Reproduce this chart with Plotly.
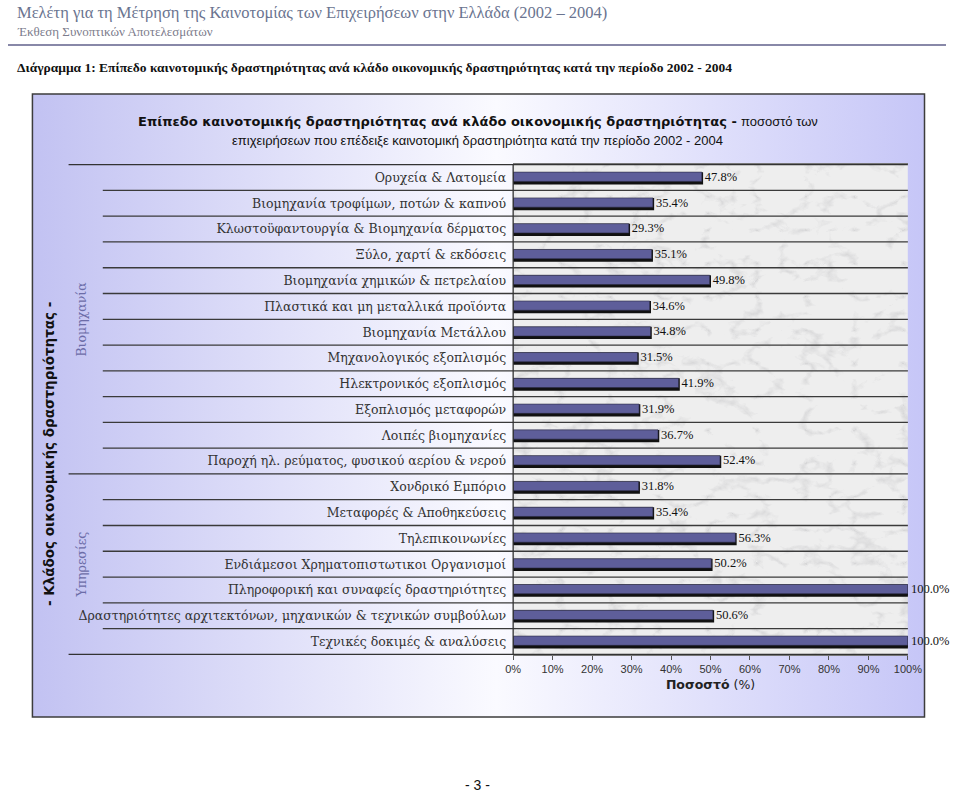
import base64
import plotly.graph_objects as go

# ---------------- data ----------------
categories = [
    "Ορυχεία & Λατομεία",
    "Βιομηχανία τροφίμων, ποτών & καπνού",
    "Κλωστοϋφαντουργία & Βιομηχανία δέρματος",
    "Ξύλο, χαρτί & εκδόσεις",
    "Βιομηχανία χημικών & πετρελαίου",
    "Πλαστικά και μη μεταλλικά προϊόντα",
    "Βιομηχανία Μετάλλου",
    "Μηχανολογικός εξοπλισμός",
    "Ηλεκτρονικός εξοπλισμός",
    "Εξοπλισμός μεταφορών",
    "Λοιπές βιομηχανίες",
    "Παροχή ηλ. ρεύματος, φυσικού αερίου & νερού",
    "Χονδρικό Εμπόριο",
    "Μεταφορές & Αποθηκεύσεις",
    "Τηλεπικοινωνίες",
    "Ενδιάμεσοι Χρηματοπιστωτικοι Οργανισμοί",
    "Πληροφορική και συναφείς δραστηριότητες",
    "Δραστηριότητες αρχιτεκτόνων, μηχανικών & τεχνικών συμβούλων",
    "Τεχνικές δοκιμές & αναλύσεις",
]
values = [47.8, 35.4, 29.3, 35.1, 49.8, 34.6, 34.8, 31.5, 41.9, 31.9, 36.7,
          52.4, 31.8, 35.4, 56.3, 50.2, 100.0, 50.6, 100.0]
group_names = ["Βιομηχανία", "Υπηρεσίες"]
group_sizes = [12, 7]
x_tick_vals = [0, 10, 20, 30, 40, 50, 60, 70, 80, 90, 100]
x_tick_text = ["0%", "10%", "20%", "30%", "40%", "50%", "60%", "70%", "80%", "90%", "100%"]

header_title = "Μελέτη για τη Μέτρηση της Καινοτομίας των Επιχειρήσεων στην Ελλάδα (2002 – 2004)"
header_sub = "Έκθεση Συνοπτικών Αποτελεσμάτων"
figure_caption = ("Διάγραμμα 1: Επίπεδο καινοτομικής δραστηριότητας ανά κλάδο οικονομικής "
                  "δραστηριότητας κατά την περίοδο 2002 - 2004")
chart_title_bold = "Επίπεδο καινοτομικής δραστηριότητας ανά κλάδο οικονομικής δραστηριότητας -"
chart_title_rest = "ποσοστό των"
chart_title_line2 = "επιχειρήσεων που επέδειξε καινοτομική δραστηριότητα κατά την περίοδο 2002 - 2004"
y_title = "- Κλάδος οικονομικής δραστηριότητας -"
x_title = "<b>Ποσοστό</b> (%)"
page_number = "- 3 -"

# ---------------- geometry helpers ----------------
W, H = 960, 798
def px(x):
    return x / W
def py(y):
    return 1 - y / H

PLOT_L, PLOT_R, PLOT_T, PLOT_B = 517, 921, 164, 655
BOX_L, BOX_R, BOX_T, BOX_B = 25, 938, 94, 717

def svg_uri(svg):
    return "data:image/svg+xml;base64," + base64.b64encode(svg.encode("utf-8")).decode()

grad_svg = (
    '<svg xmlns="http://www.w3.org/2000/svg" width="913" height="623" viewBox="0 0 913 623" '
    'preserveAspectRatio="none"><defs><linearGradient id="g" x1="0" y1="0" x2="1" y2="0">'
    '<stop offset="0" stop-color="#c2c2f2"/><stop offset="0.52" stop-color="#fafaff"/>'
    '<stop offset="1" stop-color="#c6c6f7"/></linearGradient></defs>'
    '<rect width="913" height="623" fill="url(#g)"/></svg>'
)
marble_svg = (
    '<svg xmlns="http://www.w3.org/2000/svg" width="404" height="491" viewBox="0 0 404 491" '
    'preserveAspectRatio="none"><defs><filter id="m" x="0" y="0" width="100%" height="100%">'
    '<feTurbulence type="turbulence" baseFrequency="0.02 0.03" numOctaves="4" seed="7"/>'
    '<feColorMatrix type="matrix" values="0 0 0 0 0.42  0 0 0 0 0.42  0 0 0 0 0.44  -4.5 0 0 0 0.9"/>'
    '</filter></defs><rect width="404" height="491" fill="#eeeeee"/>'
    '<rect width="404" height="491" filter="url(#m)" opacity="0.38"/></svg>'
)

fig = go.Figure()

# shadow bars (dark, slightly lower) then main bars
fig.add_trace(go.Bar(
    y=categories, x=values, orientation="h",
    width=0.38, offset=-0.16,
    marker=dict(color="#111111", line=dict(color="#111111", width=2.5)),
    hoverinfo="skip", showlegend=False,
))
fig.add_trace(go.Bar(
    y=categories, x=values, orientation="h",
    width=0.36, offset=-0.21,
    marker=dict(color="#5e5e9a", line=dict(color="#2a2a40", width=0.6)),
    text=[f"{v:.1f}%" for v in values], textposition="outside",
    constraintext="none",
    outsidetextfont=dict(family="Liberation Serif", size=12.5, color="#111111"),
    textfont=dict(family="Liberation Serif", size=12.5, color="#111111"),
    cliponaxis=False, showlegend=False,
))

shapes = []
n = len(categories)
group_bounds = [0]
for s in group_sizes:
    group_bounds.append(group_bounds[-1] + s)
for i in range(n + 1):
    is_group = i in group_bounds
    shapes.append(dict(
        type="line", xref="paper", yref="y",
        x0=px(62) if is_group else px(97), x1=px(PLOT_R),
        y0=i - 0.5, y1=i - 0.5,
        line=dict(color="#333333" if is_group else "#3a3a3a", width=1.3),
    ))
shapes.append(dict(type="line", xref="paper", yref="paper",
                   x0=px(PLOT_L), x1=px(PLOT_L), y0=py(PLOT_T), y1=py(PLOT_B),
                   line=dict(color="#333333", width=1.3)))
shapes.append(dict(type="rect", xref="paper", yref="paper",
                   x0=px(BOX_L), x1=px(BOX_R), y0=py(BOX_B), y1=py(BOX_T),
                   line=dict(color="#3c3c3c", width=1.5), fillcolor="rgba(0,0,0,0)"))
shapes.append(dict(type="line", xref="paper", yref="paper",
                   x0=0, x1=1, y0=py(45), y1=py(45),
                   line=dict(color="#8888a8", width=2)))

annotations = [
    dict(text=header_title, x=px(7), y=py(12), xanchor="left", yanchor="middle",
         font=dict(family="Liberation Serif", size=16.5, color="#6a7490")),
    dict(text=header_sub, x=px(7), y=py(31), xanchor="left", yanchor="middle",
         font=dict(family="Liberation Serif", size=13, color="#7c7c8c")),
    dict(text="<b>" + figure_caption + "</b>", x=px(7), y=py(67), xanchor="left", yanchor="middle",
         font=dict(family="Liberation Serif", size=13.5, color="#111111")),
    dict(text="<b>" + chart_title_bold + "</b> <span style=\"font-family:Liberation Sans;font-size:13px\">"
         + chart_title_rest + "</span>",
         x=px(481), y=py(122), xanchor="center", yanchor="middle",
         font=dict(family="DejaVu Sans", size=13, color="#111111")),
    dict(text=chart_title_line2, x=px(481), y=py(141), xanchor="center", yanchor="middle",
         font=dict(family="Liberation Sans", size=13, color="#111111")),
    dict(text="<b>" + y_title + "</b>", x=px(42), y=py(454), xanchor="center", yanchor="middle",
         textangle=-90, font=dict(family="DejaVu Sans", size=13.5, color="#111111")),
    dict(text=page_number, x=px(480), y=py(785), xanchor="center", yanchor="middle",
         font=dict(family="Liberation Sans", size=14, color="#111111")),
]
for name, a, b in zip(group_names, group_bounds[:-1], group_bounds[1:]):
    annotations.append(dict(
        text=name, xref="paper", yref="y", x=px(75), y=(a + b - 1) / 2,
        xanchor="center", yanchor="middle", textangle=-90,
        font=dict(family="DejaVu Serif", size=12.5, color="#6c6ca8"),
    ))
for a in annotations:
    a.setdefault("xref", "paper")
    a.setdefault("yref", "paper")
    a["showarrow"] = False

fig.update_layout(
    width=W, height=H, autosize=False,
    margin=dict(l=0, r=0, t=0, b=0),
    paper_bgcolor="white", plot_bgcolor="rgba(0,0,0,0)",
    barmode="overlay", showlegend=False,
    shapes=shapes, annotations=annotations,
    images=[
        dict(source=svg_uri(grad_svg), xref="paper", yref="paper",
             x=px(BOX_L), y=py(BOX_T), sizex=(BOX_R - BOX_L) / W, sizey=(BOX_B - BOX_T) / H,
             xanchor="left", yanchor="top", sizing="stretch", layer="below"),
        dict(source=svg_uri(marble_svg), xref="paper", yref="paper",
             x=px(PLOT_L), y=py(PLOT_T), sizex=(PLOT_R - PLOT_L) / W, sizey=(PLOT_B - PLOT_T) / H,
             xanchor="left", yanchor="top", sizing="stretch", layer="below"),
    ],
    xaxis=dict(
        domain=[px(PLOT_L), px(PLOT_R)], range=[0, 100],
        tickvals=x_tick_vals, ticktext=x_tick_text,
        ticks="outside", ticklen=4, tickcolor="#555555",
        tickfont=dict(family="Liberation Sans", size=11, color="#333333"),
        showgrid=False, zeroline=False,
        showline=True, mirror=True, linecolor="#777777", linewidth=1,
        title=dict(text=x_title, standoff=6,
                   font=dict(family="DejaVu Sans", size=12.5, color="#222222")),
        fixedrange=True,
    ),
    yaxis=dict(
        domain=[py(PLOT_B), py(PLOT_T)],
        type="category", categoryorder="array", categoryarray=categories,
        autorange="reversed",
        ticks="", ticklabelstandoff=6,
        tickfont=dict(family="DejaVu Serif", size=12.5, color="#333333"),
        showgrid=False, zeroline=False, showline=False,
        fixedrange=True,
    ),
)

fig.write_html(
    "out.html",
    config={"displayModeBar": False, "responsive": False},
    default_width="960px", default_height="798px",
    post_script="document.body.style.margin='0';document.body.style.overflow='hidden';",
)
